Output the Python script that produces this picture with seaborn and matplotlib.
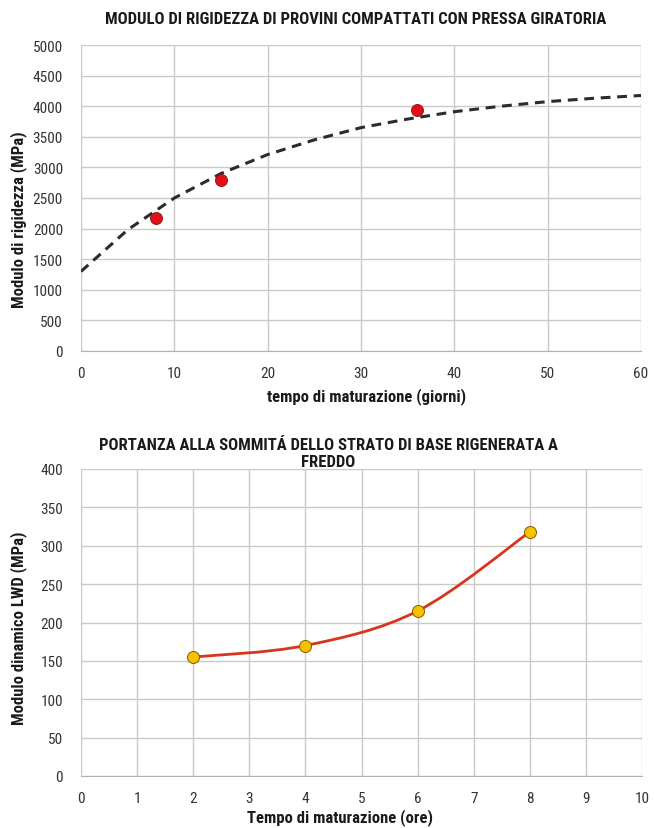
import numpy as np
import pandas as pd
import matplotlib
matplotlib.use("Agg")
import matplotlib.pyplot as plt
from matplotlib.path import Path
from matplotlib.patches import PathPatch
import seaborn as sns

# --- dati grafico superiore: modulo di rigidezza ---
giorni = [8, 15, 36]
rigidezza = [2180, 2800, 3930]
# curva di tendenza
trend_giorni = [0, 5, 10, 15, 20, 25, 30, 35, 40, 45, 50, 55, 60]
trend_rigidezza = [1300, 1980, 2500, 2900, 3210, 3450, 3650, 3790, 3910, 4000, 4075, 4130, 4175]

# --- dati grafico inferiore: portanza LWD ---
ore = [2, 4, 6, 8]
modulo_lwd = [155, 170, 215, 318]

sns.set_style("whitegrid")
plt.rcParams["font.family"] = ["Roboto Condensed", "DejaVu Sans"]

GRID = "#cbc8c5"
AXIS = "#b5b2ae"
TXT = "#1a1a1a"
TICK = "#333333"
BOLD = dict(fontsize=12, fontweight="bold", color=TXT)

fig = plt.figure(figsize=(6.54, 8.29), dpi=100)
ax1 = fig.add_axes([81 / 654, 1 - 352 / 829, 560 / 654, 306 / 829])
ax2 = fig.add_axes([81 / 654, 1 - 777 / 829, 561 / 654, 307 / 829])


def style_axes(ax):
    ax.grid(True, color=GRID, linewidth=1.0)
    for side in ["top", "right", "left"]:
        ax.spines[side].set_visible(False)
    ax.spines["bottom"].set_color(AXIS)
    ax.tick_params(axis="both", labelsize=11, colors=TICK, color=AXIS,
                   length=4, direction="out")
    ax.tick_params(axis="x", pad=7)
    ax.tick_params(axis="y", pad=9)
    ax.set_xlabel("")
    ax.set_ylabel("")
    ax.set_axisbelow(True)


# grafico superiore
tr = pd.DataFrame({"x": trend_giorni, "y": trend_rigidezza})
sns.lineplot(data=tr, x="x", y="y", ax=ax1, color="#2b2b2b", linewidth=2.2,
             linestyle=(0, (3.2, 2.2)))
pts = pd.DataFrame({"x": giorni, "y": rigidezza})
sns.scatterplot(data=pts, x="x", y="y", ax=ax1, color="#e0101a", s=75,
                edgecolor="#901010", linewidth=0.6, zorder=5)
ax1.set_xlim(0, 60)
ax1.set_ylim(0, 5000)
ax1.set_xticks(range(0, 61, 10))
ax1.set_yticks(range(0, 5001, 500))
style_axes(ax1)

# grafico inferiore: curva smussata tipo Excel (Bezier)
xs = np.array(ore, dtype=float)
ys = np.array(modulo_lwd, dtype=float)
verts = [(xs[0], ys[0])]
codes = [Path.MOVETO]
n = len(xs)
for i in range(n - 1):
    x0, y0 = (xs[i - 1], ys[i - 1]) if i > 0 else (xs[i], ys[i])
    x3, y3 = (xs[i + 2], ys[i + 2]) if i + 2 < n else (xs[i + 1], ys[i + 1])
    c1 = (xs[i] + (xs[i + 1] - x0) / 6, ys[i] + (ys[i + 1] - y0) / 6)
    c2 = (xs[i + 1] - (x3 - xs[i]) / 6, ys[i + 1] - (y3 - ys[i]) / 6)
    verts += [c1, c2, (xs[i + 1], ys[i + 1])]
    codes += [Path.CURVE4] * 3
ax2.add_patch(PathPatch(Path(verts, codes), facecolor="none",
                        edgecolor="#d8341e", linewidth=2, zorder=3))
lwd = pd.DataFrame({"x": ore, "y": modulo_lwd})
sns.scatterplot(data=lwd, x="x", y="y", ax=ax2, color="#f7c000", s=75,
                edgecolor="#806000", linewidth=0.7, zorder=5)
ax2.set_xlim(0, 10)
ax2.set_ylim(0, 400)
ax2.set_xticks(range(0, 11))
ax2.set_yticks(range(0, 401, 50))
style_axes(ax2)

# titoli ed etichette
fig.text(356 / 654, 1 - 20 / 829, "MODULO DI RIGIDEZZA DI PROVINI COMPATTATI CON PRESSA GIRATORIA",
         ha="center", va="center", **BOLD)
fig.text(328 / 654, 1 - 454 / 829,
         "PORTANZA ALLA SOMMITÁ DELLO STRATO DI BASE RIGENERATA A\nFREDDO",
         ha="center", va="center", linespacing=1.2, **BOLD)
fig.text(367 / 654, 1 - 397 / 829, "tempo di maturazione (giorni)",
         ha="center", va="center", **BOLD)
fig.text(340 / 654, 1 - 818 / 829, "Tempo di maturazione (ore)",
         ha="center", va="center", **BOLD)
fig.text(19 / 654, 1 - 220 / 829, "Modulo di rigidezza (MPa)", rotation=90,
         ha="center", va="center", **BOLD)
fig.text(19 / 654, 1 - 628 / 829, "Modulo dinamico LWD (MPa)", rotation=90,
         ha="center", va="center", **BOLD)

fig.savefig("out.png", dpi=100, facecolor="white")
